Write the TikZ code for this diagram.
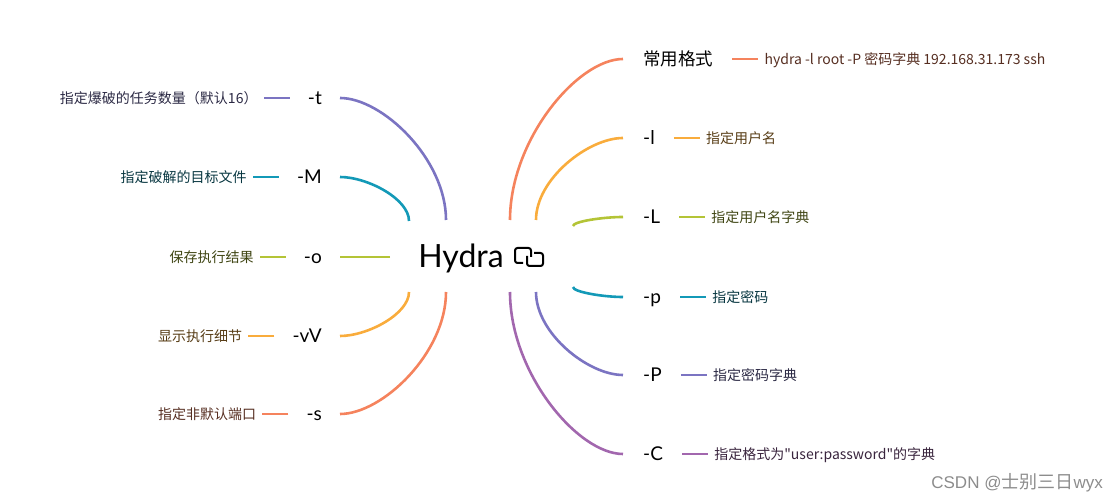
\documentclass[tikz,border=0pt]{standalone}
\usepackage{fontspec}
\setmainfont{Lato}
\newfontfamily\cjk{Noto Sans CJK SC}
\newfontfamily\wmfont{Liberation Sans}
\usetikzlibrary{calc}
\usetikzlibrary{positioning}
\definecolor{brpurple}{HTML}{7B74C2}
\definecolor{brteal}{HTML}{1399B7}
\definecolor{brgreen}{HTML}{B4C436}
\definecolor{brorange}{HTML}{F9AC3C}
\definecolor{brcoral}{HTML}{F5835D}
\definecolor{brviolet}{HTML}{A267AE}

\begin{document}
\begin{tikzpicture}[x=1pt, y=-1pt,
  branch/.style={line width=2.6pt},
  leafline/.style={line width=2pt},
  lbl/.style={font=\fontsize{19}{22}\selectfont, inner sep=0pt, text height=13pt, text depth=0pt},
  leaf/.style={font=\cjk\fontsize{14}{16}\selectfont, inner sep=0pt, text height=10.5pt, text depth=0pt}]
\useasboundingbox (0,0) rectangle (1119,502);
\node[font=\fontsize{32}{36}\selectfont, inner sep=0pt, text height=23pt, text depth=0pt] (hydra) at (461,256) {Hydra};
\draw[line width=2pt, rounded corners=2.5pt] (523,263) -- (515,263) -- (515,248) -- (531,248) -- (531,257);
\draw[line width=2pt, rounded corners=2.5pt] (534,253) -- (543,253) -- (543,266) -- (527,266) -- (527,256);
\foreach \nm/\yy/\sx/\sy/\col/\lab/\txt in {
  t/98/446/220/brpurple/{-t}/{指定爆破的任务数量（默认16）},
  M/177/409/221/brteal/{-M}/{指定破解的目标文件},
  o/257/390/257/brgreen/{-o}/{保存执行结果},
  vV/336/409/292/brorange/{-vV}/{显示执行细节},
  s/414/446/292/brcoral/{-s}/{指定非默认端口}} {
 \coordinate (\nm0) at (\sx,\sy);
 \coordinate (\nm1) at (340,\yy);
 \node[lbl, anchor=east] (\nm) at (322,\yy) {\lab};
 \node[leaf, text=\col!35!black, left=50pt of \nm] (\nm3) {\txt};
 \draw[branch, \col] (\nm0) .. controls ($(\nm0)!0.5!(\nm0|-\nm1)$) and ($(\nm1)!0.4!(\nm1-|\nm0)$) .. (\nm1);
 \draw[leafline, \col] ([xshift=-18pt]\nm.west) -- ([xshift=6pt]\nm3.east);
}
\foreach \nm/\yy/\sx/\sy/\col/\lab/\txt in {
  fmt/59/510/220/brcoral/{\cjk\fontsize{17.5}{20}\selectfont 常用格式}/{hydra -l root -P 密码字典 192.168.31.173 ssh},
  l/138/536/220/brorange/{-l}/{指定用户名},
  L/217/573/226/brgreen/{-L}/{指定用户名字典},
  p/297/573/287/brteal/{-p}/{指定密码},
  P/375/536/292/brpurple/{-P}/{指定密码字典},
  C/454/510/292/brviolet/{-C}/{指定格式为"user:password"的字典}} {
 \coordinate (\nm0) at (\sx,\sy);
 \coordinate (\nm1) at (623,\yy);
 \node[lbl, anchor=west] (\nm) at (643,\yy) {\lab};
 \node[leaf, text=\col!35!black, right=51pt of \nm] (\nm3) {\txt};
 \draw[branch, \col] (\nm0) .. controls ($(\nm0)!0.5!(\nm0|-\nm1)$) and ($(\nm1)!0.4!(\nm1-|\nm0)$) .. (\nm1);
 \draw[leafline, \col] ([xshift=19pt]\nm.east) -- ([xshift=-6pt]\nm3.west);
}
\node[anchor=east, inner sep=0pt, text=black!45, font=\wmfont\fontsize{17}{20}\selectfont] (mark) at (1103,483) {CSDN @{\cjk\fontsize{18}{20}\selectfont 士别三日}wyx};
\end{tikzpicture}
\end{document}
